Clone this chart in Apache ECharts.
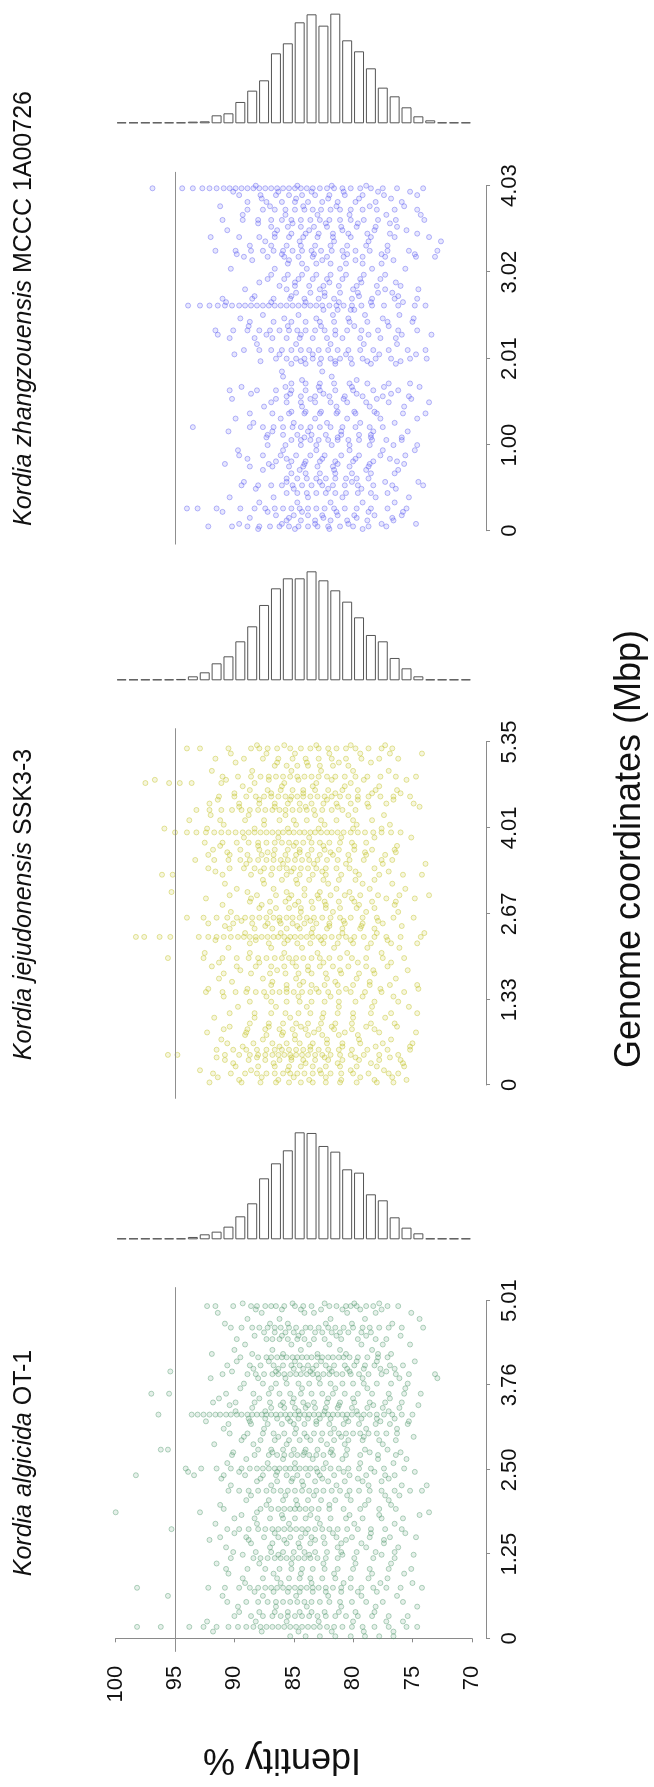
<!DOCTYPE html>
<html>
<head>
<meta charset="utf-8">
<script src="https://cdn.jsdelivr.net/npm/echarts@6/dist/echarts.min.js"></script>
<style>
html,body{margin:0;padding:0;background:#fff;overflow:hidden;width:654px;height:1787px;}
#chart{position:absolute;left:0;top:0;width:1787px;height:654px;transform-origin:0 0;transform:translateY(1787px) rotate(-90deg);}
</style>
</head>
<body>
<div id="chart"></div>
<script>
// ---------------- DATA ----------------
const identityTicks = ['70', '75', '80', '85', '90', '95', '100'];
const refIdentity = 95;
const histBins = ['99-100','98-99','97-98','96-97','95-96','94-95','93-94','92-93','91-92','90-91',
                  '89-90','88-89','87-88','86-87','85-86','84-85','83-84','82-83','81-82','80-81',
                  '79-80','78-79','77-78','76-77','75-76','74-75','73-74','72-73','71-72','70-71'];

// Kordia algicida OT-1
const algicidaTicks = ['0', '1.25', '2.50', '3.76', '5.01'];
const algicidaHist = [0,0,0,1,3,2,7,15,23,38,69,108,183,228,267,321,319,280,263,210,200,135,117,66,35,18,3,0,0,0];
const algicidaPos = [4.93,4.88,4.61,4.54,4.44,4.17,4.05,4.00,3.92,3.78,3.63,3.50,3.42,3.32,3.26,3.18,3.04,2.94,2.80,2.72,
  2.52,2.42,2.33,2.19,2.05,1.92,1.87,1.78,1.62,1.50,1.41,1.28,1.19,1.03,0.89,0.75,0.69,0.54,0.39,0.33,0.17,0.03];
const algicidaIdent = [
  [92.3,91.6,90.1,88.6,88.1,87.4,86.9,86.5,85.8,84.9,84.2,83.5,82.0,81.4,80.6,80.2,79.7,78.9,78.3,77.1,76.2],
  [88.2,86.0,84.4,82.7,80.9,79.4,77.6],
  [90.3,89.4,88.5,87.9,87.2,86.6,86.1,85.4,84.8,84.0,83.6,82.9,82.1,81.5,80.8,80.0,79.2,78.6,77.8,77.0,75.9,74.1],
  [87.5,86.6,85.7,85.0,84.3,83.2,82.6,81.8,81.1,80.4,79.3,78.5],
  [89.8,87.3,86.8,86.2,85.5,84.7,84.1,83.3,82.4,81.0,79.6,78.1,77.2],
  [89.5,88.0,87.3,86.9,86.4,86.0,85.6,85.1,84.7,84.3,83.9,83.5,83.0,82.6,82.1,81.7,81.2,80.8,80.3,79.6,78.8,77.9,77.1],
  [90.6,88.7,87.8,86.7,85.9,85.2,84.5,83.8,83.1,82.3,81.6,80.7,79.9,79.0,78.2,76.9,75.8],
  [88.4,86.3,85.0,84.2,83.4,82.0,80.5,79.1,77.7,76.5],
  [91.0,88.9,88.2,87.5,86.8,86.3,85.8,85.3,84.8,84.4,83.9,83.4,83.0,82.5,82.0,81.4,80.9,80.2,79.5,78.7,77.6,76.4,75.3,73.1],
  [89.2,87.6,86.5,85.6,84.6,83.7,82.8,81.9,80.9,80.0,79.1,78.0,76.8,75.4],
  [97.0,95.5,90.7,88.4,87.1,86.2,85.3,84.4,83.5,82.6,81.7,80.7,79.6,78.4,77.0,75.7,74.3],
  [91.8,89.9,88.3,87.0,85.9,85.1,84.2,83.3,82.2,81.1,79.9,78.6,77.3,75.9],
  [88.5,86.9,85.8,84.9,84.0,83.2,82.3,81.3,80.1,78.8,77.5,76.1],
  [96.4,93.6,93.1,92.6,92.1,91.6,91.2,90.7,90.3,89.8,89.4,88.9,88.5,88.1,87.7,87.3,86.9,86.5,86.1,85.7,85.3,84.9,84.5,84.1,
   83.7,83.3,82.9,82.5,82.1,81.7,81.3,80.9,80.5,80.1,79.6,79.1,78.6,78.0,77.4,76.7,75.9,75.0],
  [88.8,87.4,86.4,85.5,84.6,83.8,82.8,81.9,80.6,79.3,78.0,76.5],
  [90.5,88.6,87.2,86.0,85.0,84.1,83.1,82.0,80.8,79.5,78.1,76.9,75.4],
  [90.4,88.9,87.6,86.7,85.8,84.9,84.1,83.3,82.6,81.9,81.2,80.6,80.0,79.4,78.7,78.0,77.2,76.3],
  [89.4,87.8,86.6,85.4,84.5,83.6,82.7,81.6,80.4,79.2,77.8,76.4],
  [96.2,95.6,88.0,86.9,85.9,85.0,84.0,83.0,81.8,80.5,79.0,77.1],
  [90.2,88.3,87.1,86.4,85.8,85.2,84.7,84.2,83.7,83.1,82.5,81.7,80.6,79.4,77.9,76.4],
  [94.1,92.8,91.5,90.3,89.4,88.7,88.1,87.6,87.1,86.6,86.2,85.7,85.3,84.9,84.5,84.0,83.6,83.1,82.5,81.9,81.2,80.4,79.5,78.5,77.4,75.7],
  [98.3,93.4,90.9,89.1,87.6,86.5,85.6,84.7,83.8,82.8,81.6,80.3,78.9,77.3,76.5],
  [88.1,86.4,85.2,84.3,83.2,82.1,80.7,79.2,77.6],
  [90.5,89.6,88.8,88.0,87.3,86.7,86.1,85.5,84.9,84.3,83.7,83.1,82.5,81.8,81.1,80.3,79.5,78.6,77.6,76.5,75.2,74.2],
  [89.0,87.1,85.9,84.8,83.8,82.7,81.5,80.2,78.7,77.0],
  [90.9,87.8,86.9,86.3,85.8,85.3,84.9,84.5,84.0,83.5,82.9,82.0,80.8,79.4,77.8,76.4],
  [100.0,92.9,88.1,73.6],
  [90.0,88.3,87.0,85.9,84.9,84.0,83.0,81.9,80.6,79.2,77.6,75.8],
  [95.3,90.6,89.6,88.8,88.0,87.4,86.8,86.3,85.8,85.3,84.8,84.3,83.8,83.2,82.6,82.0,81.3,80.5,79.6,78.5,77.3,75.9],
  [91.2,89.0,87.5,86.3,85.3,84.4,83.5,82.5,81.4,80.1,78.6,76.9,74.7],
  [88.6,86.8,85.6,84.6,83.6,82.4,81.0,79.3,77.4],
  [90.1,88.2,86.9,85.9,85.0,84.1,83.2,82.2,81.0,79.7,78.1,76.5],
  [90.3,88.4,87.8,87.2,86.6,86.1,85.6,85.1,84.6,84.1,83.6,83.0,82.3,81.3,79.9,78.3,76.5],
  [90.7,88.9,87.4,86.2,85.2,84.3,83.4,82.4,81.3,80.0,78.6,77.0,75.1],
  [89.3,87.6,86.4,85.4,84.5,83.6,82.6,81.5,80.2,78.7,77.1],
  [98.2,92.2,90.8,89.6,88.7,88.0,87.4,86.9,86.4,85.9,85.4,84.9,84.4,83.9,83.4,82.9,82.3,81.7,81.0,80.2,79.3,78.3,77.2,76.0,74.2],
  [88.3,86.7,85.5,84.5,83.4,82.3,81.0,79.6,78.0],
  [90.6,89.0,88.0,87.2,86.5,85.9,85.3,84.7,84.1,83.5,82.8,82.0,81.1,80.1,78.9,77.5,75.8],
  [89.6,87.9,86.6,85.5,84.5,83.5,82.4,81.2,79.8,78.2],
  [90.0,88.6,87.6,86.8,86.1,85.5,84.9,84.3,83.7,83.0,82.3,81.5,80.6,79.6,78.4,77.0,75.4],
  [98.2,96.2,93.8,92.6,91.5,90.5,89.7,89.0,88.4,87.8,87.3,86.8,86.3,85.8,85.3,84.8,84.3,83.8,83.3,82.8,82.2,81.6,80.9,80.1,79.2,78.2,77.0,75.5,74.6],
  [85.3,84.0,82.8,81.5,80.2,79.0,77.8,76.6]
];
// sparse points between the dense rows
const algicidaHazePos = [4.97,4.83,4.74,4.67,4.49,4.36,4.28,4.22,4.11,3.96,3.86,3.71,3.56,3.46,3.37,3.22,3.11,2.99,2.88,2.76,
  2.66,2.60,2.47,2.37,2.27,2.12,1.98,1.83,1.70,1.56,1.46,1.35,1.24,1.11,0.96,0.82,0.63,0.47,0.25,0.10];
const algicidaHazeIdent = [
  [89.3,85.1,82.4,79.9,77.8],[91.4,87.7,84.1,83.3,80.5,78.1,75.1],[88.9,86.2,81.9,79.0,74.4],[90.8,87.0,85.5,82.3,80.1,76.7],
  [88.3,86.0,84.6,81.4,78.9,76.0],[89.1,85.2,83.7,82.0,79.3,77.5,75.2],[90.0,86.8,84.4,81.1,78.4],[91.9,88.5,85.9,83.0,80.6,77.9,76.8],
  [89.8,87.1,84.9,82.7,79.7,78.0,74.8],[95.4,90.2,86.5,83.6,81.8,80.3,77.2],[92.0,88.0,85.7,82.9,79.2,76.1,72.9],[89.5,86.9,84.3,81.5,78.8,75.6],
  [91.3,87.9,85.0,82.1,80.0,76.9],[90.4,86.1,83.8,81.2,78.3,74.5],[89.9,87.4,84.6,82.4,79.7,77.0],[92.4,88.7,85.3,83.1,80.4,77.7,75.3],
  [90.9,87.5,84.8,81.6,78.9,76.3],[89.2,86.3,83.9,81.0,79.1,74.9],[91.7,88.4,85.6,82.2,80.7,77.5],[90.1,86.8,84.1,81.9,78.6,76.0],
  [89.0,85.9,83.4,80.9,77.9,75.5],[90.6,87.2,84.9,82.3,79.4,76.6],[93.9,89.6,86.4,83.0,80.8,78.2,74.8],[91.1,87.8,85.1,82.6,79.6,77.0],
  [90.3,86.9,84.2,81.4,78.7,75.9,73.8],[88.6,85.7,83.3,80.5,77.3,76.1],[91.2,87.3,84.7,82.0,79.0,76.8],[89.4,86.0,83.6,80.3,77.8,74.4],
  [91.6,88.1,85.4,82.8,79.9,76.5],[90.0,86.6,84.0,81.7,78.5,75.6],[92.1,88.8,85.8,83.2,80.6,77.4],[90.7,87.0,84.5,81.3,78.9,76.2],
  [89.3,86.3,83.7,80.9,77.6,74.9],[91.5,87.9,85.2,82.5,79.8,76.8],[90.5,86.7,84.4,81.6,78.4,75.7],[89.1,86.1,83.5,80.8,77.7,75.0],
  [95.6,91.0,87.6,84.8,82.1,79.3,76.3],[89.7,86.5,83.9,81.0,78.1,74.6],[92.3,88.2,85.6,82.9,80.0,77.2,75.8],[91.8,87.7,84.6,81.8,79.1,76.6]
];

// Kordia jejudonensis SSK3-3
const jejudonensisTicks = ['0', '1.33', '2.67', '4.01', '5.35'];
const jejudonensisHist = [0,0,0,2,3,4,12,24,51,72,117,162,226,276,306,306,327,300,270,236,189,136,117,67,36,12,3,0,0,0];
const jejudonensisPos = [5.25,5.09,4.98,4.81,4.71,4.60,4.50,4.39,4.29,4.13,3.94,3.78,3.67,3.59,3.51,3.38,3.28,3.20,2.96,2.86,
  2.76,2.61,2.52,2.44,2.31,2.21,1.98,1.85,1.74,1.56,1.45,1.30,1.12,0.96,0.87,0.78,0.65,0.55,0.47,0.39,0.29,0.18,0.04];
const jejudonensisIdent = [
  [94.0,92.9,90.5,88.6,87.9,87.2,86.4,85.3,84.4,83.6,82.9,82.1,81.4,80.6,79.8,78.7,77.6,76.7],
  [91.6,89.2,87.6,86.3,85.1,84.0,82.9,81.8,80.6,79.3,77.8,76.2],
  [86.6,85.6,84.7,83.8,82.8,81.7,80.4],
  [91.0,89.7,88.6,87.8,87.1,86.5,85.9,85.3,84.7,84.1,83.5,82.9,82.2,81.5,80.7,79.8,78.8,77.7,76.4,74.7],
  [97.5,95.5,94.6,93.6,91.1,88.3,85.8,83.1,80.2],
  [88.7,87.2,86.1,85.1,84.2,83.2,82.1,80.9,79.6,78.1,76.3],
  [91.3,90.0,89.0,88.2,87.5,86.9,86.3,85.7,85.2,84.7,84.2,83.6,83.0,82.4,81.8,81.1,80.4,79.6,78.7,77.7,76.6,75.2],
  [92.1,89.6,87.9,86.6,85.5,84.5,83.5,82.5,81.4,80.2,78.8,77.2,74.9],
  [93.2,92.1,91.1,90.2,89.4,88.7,88.0,87.4,86.8,86.2,85.7,85.1,84.5,83.9,83.3,82.6,81.8,80.9,79.8],
  [93.8,91.2,89.1,87.5,86.2,85.0,83.9,82.7,81.4,80.0,78.4],
  [95.0,94.0,93.2,92.4,91.7,91.1,90.5,89.9,89.3,88.8,88.3,87.8,87.3,86.8,86.3,85.9,85.4,85.0,84.5,84.1,83.6,83.2,82.7,82.2,
   81.8,81.3,80.8,80.2,79.6,79.0,78.3,77.6,76.8,76.0],
  [92.5,91.0,89.8,88.8,88.0,87.3,86.6,86.0,85.4,84.8,84.2,83.5,82.8,82.0,81.1,80.1,78.9],
  [91.8,89.5,87.9,86.6,85.5,84.5,83.5,82.4,81.2,79.9,78.4,76.5],
  [92.2,90.4,88.9,87.7,86.7,85.7,84.8,83.8,82.8,81.7,80.4,78.9,77.3],
  [93.3,91.7,90.5,89.5,88.7,88.0,87.3,86.7,86.1,85.5,84.9,84.3,83.7,83.0,82.2,81.3,80.3,79.1,77.6,76.7],
  [92.2,90.4,89.2,88.3,87.5,86.8,86.2,85.6,85.0,84.4,83.8,83.1,82.3,81.4,80.3,78.2],
  [96.1,95.2,91.0,88.6,86.9,85.6,84.5,83.4,82.3,81.0,79.5,77.8,75.8,74.2],
  [87.6,86.0,84.8,83.7,82.5,81.2,79.8,78.2],
  [90.4,88.1,86.5,85.2,84.1,83.0,81.9,80.7,79.4,77.9,76.1,73.6],
  [88.7,87.0,85.7,84.6,83.5,82.4,81.2,79.9,78.4,76.4],
  [87.9,86.5,85.4,84.4,83.4,82.3,81.1,79.7,78.2],
  [94.0,92.6,91.5,90.6,89.8,89.1,88.5,87.9,87.3,86.7,86.2,85.6,85.1,84.5,83.9,83.3,82.6,81.9,81.1,80.2,79.2,78.0,76.6,74.9],
  [92.2,90.1,88.5,87.2,86.1,85.1,84.1,83.1,82.0,80.7,79.2,77.5],
  [90.4,88.3,86.8,85.6,84.5,83.4,82.2,80.9,79.4,78.2],
  [98.3,97.6,96.3,95.4,93.0,92.2,91.5,90.9,90.3,89.7,89.2,88.7,88.2,87.7,87.2,86.7,86.3,85.8,85.3,84.9,84.4,83.9,83.4,82.9,
   82.4,81.8,81.2,80.6,79.9,79.1,78.2,77.2,76.0,74.3],
  [88.7,87.1,85.8,84.7,83.6,82.5,81.3,80.0,78.5,76.8,74.6],
  [95.6,92.6,91.0,89.8,88.8,88.0,87.3,86.6,86.0,85.4,84.8,84.2,83.5,82.8,82.0,81.1,80.1,78.9,77.5,75.7],
  [91.9,89.8,88.2,86.9,85.8,84.8,83.8,82.8,81.7,80.4,78.9,77.1],
  [90.9,88.6,87.0,85.7,84.6,83.5,82.3,81.0,79.5,78.2],
  [86.9,85.6,84.5,83.5,82.4,81.3,80.0,78.6,76.9,74.6],
  [92.4,91.0,89.9,89.0,88.2,87.5,86.8,86.2,85.6,85.0,84.3,83.6,82.9,82.1,81.2,80.2,79.0,77.6,75.7],
  [88.7,86.9,85.6,84.5,83.5,82.4,81.2,79.8,78.2,76.2],
  [90.4,88.3,86.9,85.7,84.6,83.6,82.5,81.3,80.0,78.5,76.8,74.6],
  [88.7,87.1,85.9,84.8,83.8,82.7,81.5,80.1,78.5,76.5],
  [90.9,88.9,87.4,86.2,85.1,84.0,82.9,81.6,80.1,78.2],
  [89.1,87.3,86.0,84.9,83.8,82.6,81.2,79.6],
  [90.6,88.4,86.8,85.6,84.5,83.4,82.2,80.9,79.4,77.5,75.0],
  [91.5,90.1,89.0,88.1,87.3,86.6,86.0,85.4,84.8,84.2,83.6,82.9,82.1,81.2,80.1,78.8,77.1,75.2],
  [95.6,94.8,90.8,89.6,88.7,88.0,87.4,86.8,86.3,85.8,85.3,84.8,84.3,83.8,83.2,82.6,81.9,81.1,80.2,79.1,77.8,76.2],
  [90.8,88.8,87.4,86.2,85.2,84.2,83.2,82.1,80.9,79.5,77.8,76.0],
  [89.9,88.0,86.6,85.4,84.4,83.4,82.3,81.1,79.7,78.0,75.7],
  [91.8,90.3,89.1,88.1,87.3,86.6,85.9,85.3,84.7,84.1,83.4,82.7,81.9,81.0,80.0,78.7,77.0,76.2],
  [92.1,89.4,87.8,86.5,85.4,84.4,83.4,82.3,81.1,79.7,78.0,76.6]
];
const jejudonensisHazePos = [5.30,5.17,5.03,4.90,4.76,4.66,4.55,4.45,4.34,4.21,4.06,4.00,3.86,3.73,3.63,3.45,3.33,3.14,3.06,3.01,
  2.91,2.81,2.70,2.56,2.48,2.37,2.26,2.14,2.06,1.91,1.79,1.66,1.61,1.50,1.38,1.22,1.05,0.91,0.82,0.71,0.60,0.43,0.34,0.23,0.12,0.08];
const jejudonensisHazeIdent = [
  [88.1,85.8,83.1,80.2,77.3],[90.3,87.3,84.9,82.0,79.4,76.9,74.2],[89.9,86.4,83.9,81.2,78.5],[91.9,88.5,85.2,82.7,80.0,77.0],
  [96.7,90.7,87.1,84.6,81.8,79.1,75.5],[89.3,86.0,83.4,80.7,77.8],[90.0,86.9,84.2,81.5,78.4,76.0],[91.4,87.9,85.3,82.2,79.6,76.6],
  [89.6,86.6,84.0,81.3,78.7,74.4],[92.0,88.8,85.7,83.2,80.4,77.4],[90.9,87.5,84.8,82.4,79.7,76.9],[95.9,92.3,88.3,85.5,82.9,80.0,77.6],
  [89.2,86.3,83.7,81.0,78.2,75.1],[91.2,88.0,85.0,82.5,79.9,76.3],[90.6,87.2,84.5,81.9,79.0,76.4],[89.0,85.9,83.3,80.6,77.5,73.9],
  [91.6,87.8,85.2,82.6,79.8,77.0],[90.8,87.5,84.7,82.1,79.2,76.7],[89.8,86.7,84.1,81.4,78.6,75.6],[95.3,88.9,85.6,82.8,80.3],
  [92.4,88.6,85.4,82.9,80.1,77.2,74.8],[91.0,87.7,84.9,82.3,79.5,76.5],[90.3,87.0,84.4,81.7,78.9,76.2],[89.4,86.2,83.6,80.8,77.9],
  [90.8,87.4,84.7,82.0,79.3,75.9],[89.1,86.1,83.5,80.9,78.0,74.0],[91.6,88.2,85.5,82.7,80.2,77.1],[90.5,86.9,84.3,81.6,78.8,76.1],
  [92.5,88.7,85.8,83.0,80.5,77.6],[91.3,87.9,85.1,82.5,79.6,76.8],[89.5,86.4,83.8,81.1,78.3,75.4],[91.3,87.6,84.8,82.2,79.7,76.4],
  [90.2,86.8,84.2,81.5,78.6],[92.2,88.9,85.6,83.1,80.6,77.7,74.5],[90.9,87.3,84.6,81.9,79.2,76.6],[89.7,86.5,83.9,81.2,78.4,75.3],
  [91.7,88.3,85.3,82.6,80.0,77.3],[90.4,87.1,84.4,81.8,78.9,76.3],[92.3,89.0,85.9,83.3,80.7,77.8,74.7],[91.1,87.6,84.9,82.2,79.5,76.8],
  [89.3,86.2,83.6,80.9,78.1,75.2],[91.5,88.1,85.2,82.4,79.8,76.9],[90.1,86.7,84.0,81.3,78.5,75.8],[92.9,88.6,85.5,82.8,80.2,77.4],
  [91.4,87.7,85.0,82.3,79.4,76.7],[89.6,86.3,83.7,81.0,78.2,75.5]
];

// Kordia zhangzouensis MCCC 1A00726
const zhangzouensisTicks = ['0', '1.00', '2.01', '3.02', '4.03'];
const zhangzouensisHist = [0,0,0,0,0,1,5,6,24,30,64,98,129,210,240,303,327,293,329,249,216,165,107,81,48,21,9,0,0,0];
const zhangzouensisPos = [4.00,3.92,3.84,3.75,3.63,3.55,3.47,3.43,3.33,3.27,3.20,3.12,2.99,2.94,2.86,2.78,2.71,2.63,2.58,2.44,
  2.34,2.25,2.11,2.01,1.95,1.86,1.72,1.64,1.57,1.50,1.39,1.37,1.21,1.12,1.06,1.00,0.88,0.81,0.75,0.67,0.61,0.53,0.44,0.26,0.18,0.12,0.05];
const zhangzouensisIdent = [
  [96.9,94.4,93.5,92.7,92.1,91.5,90.9,90.4,89.9,89.4,88.9,88.4,87.9,87.4,86.9,86.4,85.9,85.4,84.9,84.4,83.9,83.4,82.8,82.2,
   81.6,80.9,80.2,79.4,78.5,77.5,76.3,74.1],
  [89.6,87.8,86.5,85.4,84.3,83.2,82.0,80.7,79.2,77.4,74.6],
  [88.9,87.3,86.0,84.9,83.8,82.6,81.3,79.8,78.1,75.9],
  [88.9,87.6,86.6,85.7,84.9,84.1,83.4,82.7,81.9,81.1,80.2,79.2,78.0,76.5,74.6],
  [91.0,89.3,88.0,86.9,86.0,85.2,84.4,83.6,82.8,82.0,81.1,80.2,79.1,77.9,76.4,74.0],
  [86.9,85.5,84.4,83.3,82.2,81.0,79.7,78.1,76.3],
  [86.6,85.2,84.0,82.9,81.7,80.4,78.8,76.9,74.6],
  [92.0,89.6,87.9,86.6,85.4,84.2,83.0,81.7,80.2,78.5,76.5,73.6],
  [88.7,86.9,85.6,84.4,83.2,81.9,80.5,78.9,77.1],
  [91.6,89.9,88.6,87.6,86.7,85.9,85.1,84.3,83.5,82.7,81.8,80.9,79.8,78.6,77.1,75.3,72.9],
  [89.2,87.2,85.8,84.6,83.4,82.2,80.8,79.2,77.3,74.7,73.1],
  [85.5,84.3,83.1,81.9,80.6,79.2,77.6],
  [86.9,85.5,84.3,83.1,81.9,80.6,79.1,77.3],
  [87.2,85.8,84.6,83.4,82.2,80.9,79.4,77.7],
  [86.2,84.9,83.7,82.5,81.2,79.7,78.0,76.0],
  [84.8,83.6,82.4,81.1,79.6,77.9,76.7],
  [91.0,88.5,86.7,85.3,84.1,82.9,81.6,80.1,78.4,76.5,74.6],
  [93.9,92.9,92.1,91.4,90.8,90.2,89.6,89.1,88.6,88.1,87.6,87.1,86.6,86.1,85.6,85.1,84.6,84.1,83.6,83.1,82.6,82.0,81.4,80.8,
   80.1,79.3,78.4,77.4,76.2,74.8,73.9],
  [82.5,81.3,80.2,79.9],
  [88.7,86.7,85.2,84.0,82.8,81.6,80.3,78.8,77.1,75.0],
  [91.6,90.1,88.9,87.9,87.0,86.2,85.4,84.7,84.0,83.2,82.4,81.5,80.5,79.3,77.9,76.2,74.6],
  [90.4,88.3,86.8,85.6,84.5,83.4,82.2,80.9,79.4,77.7,76.4],
  [89.2,87.9,86.9,86.0,85.2,84.4,83.7,82.9,82.1,81.3,80.4,79.4,78.3,77.0,75.4,73.9],
  [86.5,85.6,84.8,84.1,83.4,82.7,81.9,81.1,80.2,79.2,78.1,76.8,75.2,73.8],
  [85.2,84.0,82.8,81.5,80.1,78.5,76.4],
  [86.0,82.6],
  [85.2,84.0,82.8,81.6,80.3,78.8,77.0,75.2],
  [90.4,88.1,86.5,85.2,84.0,82.8,81.5,80.0,78.3,76.2],
  [85.6,84.4,83.2,82.0,80.7,79.2,77.5,75.3],
  [86.9,85.6,84.4,83.2,81.9,80.5,78.9,77.0,73.6],
  [85.2,84.0,82.7,81.3,79.9,78.2],
  [88.7,86.8,85.4,84.1,82.8,81.4,79.8,78.0,75.8,73.9],
  [93.5,88.7,87.6,86.7,85.9,85.1,84.4,83.6,82.8,81.9,80.9,79.8,78.6,77.5],
  [87.2,85.9,84.7,83.5,82.3,81.0,79.5,78.5],
  [85.2,84.4,83.6,82.9,82.1,81.3,80.4,79.5,78.4,77.2,75.9],
  [87.2,85.7,84.4,83.1,81.8,80.3,78.6,76.6,74.6],
  [89.6,87.6,86.1,84.8,83.6,82.4,81.0,79.5,77.7,75.6],
  [86.5,85.2,84.0,82.8,81.5,80.0,78.3,76.3],
  [88.7,86.8,85.4,84.2,83.0,81.7,80.3,78.7],
  [85.2,84.0,82.8,81.5,80.1,78.5,76.5],
  [85.6,84.7,83.9,83.1,82.3,81.5,80.6,79.7,78.7],
  [89.4,88.0,86.9,86.0,85.1,84.3,83.5,82.6,81.7,80.7,79.6,78.3,76.7,74.1],
  [85.6,84.7,83.9,83.1,82.3,81.5,80.6,79.6,78.5,77.1],
  [94.0,93.1,91.5,89.5,88.3,87.4,86.6,85.9,85.2,84.5,83.8,83.1,82.4,81.6,80.7,79.7,78.5,77.1,75.5],
  [86.5,85.0,83.8,82.6,81.3,79.9,78.2,75.9],
  [85.6,84.4,83.2,81.9,80.5,78.8,76.6],
  [92.2,90.2,88.9,87.9,87.0,86.2,85.4,84.6,83.8,83.0,82.1,81.1,80.0,78.7,77.2]
];
const zhangzouensisHazePos = [4.03,3.96,3.88,3.79,3.69,3.59,3.51,3.38,3.23,3.16,3.06,2.90,2.82,2.74,2.67,2.52,2.48,2.39,2.29,2.18,
  2.06,1.98,1.80,1.76,1.68,1.60,1.54,1.45,1.31,1.26,1.16,1.09,0.94,0.84,0.78,0.71,0.57,0.49,0.39,0.33,0.22,0.15,0.08,0.02];
const zhangzouensisHazeIdent = [
  [88.2,84.7,81.8,78.9],[90.1,86.3,83.5,80.8,77.9,75.2],[87.7,84.8,82.1,79.5,76.8],[91.2,87.0,84.2,81.4,78.6,75.7],
  [89.3,85.7,83.0,80.3,77.2,74.3],[88.0,85.1,82.3,79.6,76.9],[90.6,86.4,83.7,80.9,78.2,75.5],[87.4,84.5,81.6,78.7,72.6],
  [89.8,86.0,83.3,80.5,77.6,74.8],[88.5,85.4,82.6,79.8,76.6],[90.3,86.6,83.9,81.1,78.4,75.6],[87.9,84.9,82.0,79.3,76.4],
  [89.1,85.6,82.8,80.0,77.3,74.5],[88.3,85.2,82.4,79.5,76.2],[90.7,86.9,84.0,81.2,78.5,75.8],[87.6,84.6,81.7,79.0,76.1],
  [89.5,85.8,83.1,80.4,77.5,74.9],[88.8,85.5,82.7,79.9,77.0],[91.4,87.3,84.4,81.5,78.7,75.9,73.4],[88.1,84.8,81.9,79.1,76.3],
  [90.0,86.2,83.4,80.6,77.8,74.7],[87.8,84.4,81.5,78.8,76.0],[85.9,81.8],[84.3,79.7],
  [89.4,85.7,82.9,80.1,77.4,74.4],[88.6,85.3,82.5,79.7,76.8],[90.2,86.5,83.6,80.8,78.0,75.1],[87.5,84.3,81.4,78.6,75.7],
  [89.9,86.1,83.2,80.5,77.7,74.6],[88.4,85.0,82.2,79.4,76.5],[90.5,86.8,83.8,81.0,78.3,75.4],[87.3,84.1,81.3,78.5,75.9],
  [89.7,85.9,83.1,80.3,77.5,74.8],[88.9,85.6,82.6,79.8,76.9],[90.8,87.1,84.1,81.3,78.6,75.7],[87.6,84.5,81.6,78.9,76.2],
  [89.2,85.6,82.8,80.1,77.3,74.5],[88.2,85.0,82.1,79.3,76.4],[90.4,86.7,83.8,80.9,78.1,75.3],[87.9,84.7,81.9,79.2,76.5],
  [91.0,87.2,84.3,81.4,78.7,75.8],[88.7,85.4,82.5,79.7,76.7],[89.6,86.0,83.2,80.4,77.6,74.7],[88.0,84.9,82.0,79.2]
];

// ---------------- LAYOUT / STYLE ----------------
const FONT = "'Liberation Sans', Arial, Helvetica, sans-serif";
const Y100 = 115.7, Y70 = 471.8;           // identity 100 and 70 (px, unrotated frame)
const identSpan = Y70 - Y100;
const panels = [
  {genus: 'Kordia algicida', strain: 'OT-1', pos: algicidaPos, ident: algicidaIdent, hazePos: algicidaHazePos, hazeIdent: algicidaHazeIdent,
   ticks: algicidaTicks, hist: algicidaHist, rgb: '80,152,108', x0: 148.7, len: 337.6, histX: 547.7, titleX: 324, showIdentAxis: true},
  {genus: 'Kordia jejudonensis', strain: 'SSK3-3', pos: jejudonensisPos, ident: jejudonensisIdent, hazePos: jejudonensisHazePos, hazeIdent: jejudonensisHazeIdent,
   ticks: jejudonensisTicks, hist: jejudonensisHist, rgb: '192,192,30', x0: 702, len: 343, histX: 1106.7, titleX: 882.5, showIdentAxis: false},
  {genus: 'Kordia zhangzouensis', strain: 'MCCC 1A00726', pos: zhangzouensisPos, ident: zhangzouensisIdent, hazePos: zhangzouensisHazePos, hazeIdent: zhangzouensisHazeIdent,
   ticks: zhangzouensisTicks, hist: zhangzouensisHist, rgb: '88,88,240', x0: 1256.3, len: 345, histX: 1663.7, titleX: 1478.5, showIdentAxis: false}
];

const grid = [], xAxis = [], yAxis = [], series = [], graphic = [];
const axisColor = '#8a8a8a';
panels.forEach((p, i) => {
  const L = Number(p.ticks[p.ticks.length - 1]);
  const tickVals = p.ticks.map(Number);
  const a = 3 * i, b = 3 * i + 1, h = 3 * i + 2;
  grid.push({left: p.x0 - 0.04 * p.len, top: Y100 - 0.04 * identSpan, width: 1.08 * p.len, height: 1.08 * identSpan,
             containLabel: false, outerBoundsMode: 'none'});
  grid.push({left: p.x0, top: Y100, width: p.len, height: identSpan, containLabel: false, outerBoundsMode: 'none'});
  grid.push({left: p.histX, top: Y100, width: 120, height: identSpan, containLabel: false, outerBoundsMode: 'none'});

  xAxis.push({type: 'value', gridIndex: a, min: -0.04 * L, max: 1.04 * L, show: false});
  yAxis.push({type: 'value', gridIndex: a, min: 68.8, max: 101.2, show: false});

  xAxis.push({type: 'value', gridIndex: b, min: 0, max: L, position: 'bottom', offset: 0.04 * identSpan,
    axisLine: {show: true, lineStyle: {color: axisColor, width: 1}},
    axisTick: {show: true, length: 4, inside: false, customValues: tickVals, lineStyle: {color: axisColor, width: 1}},
    axisLabel: {show: true, customValues: tickVals, margin: 13, fontSize: 22, color: '#111', fontFamily: FONT,
      showMinLabel: true, showMaxLabel: true,
      formatter: (v) => { const t = p.ticks.find(s => Math.abs(Number(s) - v) < 1e-9); return t === undefined ? '' : t; }},
    splitLine: {show: false}});
  const identVals = identityTicks.map(Number);
  yAxis.push({type: 'value', gridIndex: b, min: 70, max: 100, position: 'left', offset: 0.04 * p.len,
    show: p.showIdentAxis,
    axisLine: {show: true, lineStyle: {color: axisColor, width: 1}},
    axisTick: {show: true, length: 4, inside: false, customValues: identVals, lineStyle: {color: axisColor, width: 1}},
    axisLabel: {show: true, customValues: identVals, margin: 14, fontSize: 22, color: '#111', fontFamily: FONT,
      showMinLabel: true, showMaxLabel: true,
      formatter: (v) => { const t = identityTicks.find(s => Math.abs(Number(s) - v) < 1e-9); return t === undefined ? '' : t; }},
    splitLine: {show: false}});

  xAxis.push({type: 'value', gridIndex: h, min: 0, max: 360, show: false});
  yAxis.push({type: 'category', gridIndex: h, data: histBins, inverse: true, show: false});

  const data = [];
  p.pos.forEach((g, k) => p.ident[k].forEach(v => data.push([g, v])));
  p.hazePos.forEach((g, k) => p.hazeIdent[k].forEach(v => data.push([g, v])));
  series.push({
    type: 'scatter', xAxisIndex: a, yAxisIndex: a, data: data, symbol: 'circle', symbolSize: 5,
    silent: true, animation: false,
    itemStyle: {color: 'rgba(' + p.rgb + ',0.18)', borderColor: 'rgba(' + p.rgb + ',0.6)', borderWidth: 0.9},
    markLine: {silent: true, symbol: ['none', 'none'], animation: false, label: {show: false},
      lineStyle: {color: '#8f8f8f', width: 1, type: 'solid'}, emphasis: {disabled: true},
      data: [{yAxis: refIdentity}]}
  });
  series.push({
    type: 'bar', xAxisIndex: h, yAxisIndex: h, data: p.hist, barCategoryGap: '16%', barMinHeight: 1,
    silent: true, animation: false,
    itemStyle: {color: '#ffffff', borderColor: '#555555', borderWidth: 1}
  });

  graphic.push({type: 'text', x: p.titleX, y: 24, silent: true,
    style: {text: '{i|' + p.genus + '} ' + p.strain, fontSize: 25, fontFamily: FONT, fill: '#111',
      textAlign: 'center', textVerticalAlign: 'middle', align: 'center', verticalAlign: 'middle',
      rich: {i: {fontStyle: 'italic', fontSize: 25, fontFamily: FONT, fill: '#111'}}}});
});

graphic.push({type: 'text', x: 938, y: 630, silent: true,
  style: {text: 'Genome coordinates (Mbp)', fontSize: 36, fontFamily: FONT, fill: '#111',
    textAlign: 'center', textVerticalAlign: 'middle', align: 'center', verticalAlign: 'middle'}});
graphic.push({type: 'text', x: 28, y: 282, rotation: Math.PI / 2, silent: true,
  style: {text: 'Identity %', fontSize: 36, fontFamily: FONT, fill: '#111',
    textAlign: 'center', textVerticalAlign: 'middle', align: 'center', verticalAlign: 'middle'}});

const chart = echarts.init(document.getElementById('chart'), null, {renderer: 'canvas', width: 1787, height: 654});
chart.setOption({
  animation: false,
  backgroundColor: '#ffffff',
  textStyle: {fontFamily: FONT},
  grid: grid, xAxis: xAxis, yAxis: yAxis, series: series, graphic: graphic
});
</script>
</body>
</html>
